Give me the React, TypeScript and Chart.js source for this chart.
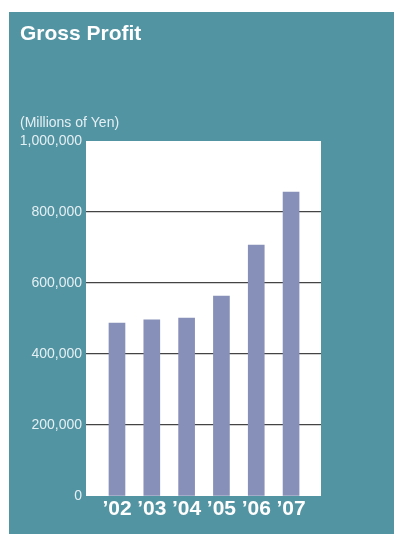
import React, { useEffect, useRef } from "react";
import { Chart, registerables } from "chart.js";

Chart.register(...registerables);

const title = "Gross Profit";
const unitLabel = "(Millions of Yen)";
const categories = ["\u201902", "\u201903", "\u201904", "\u201905", "\u201906", "\u201907"];
const grossProfit = [487000, 496000, 501000, 563000, 707000, 856000];
const yTicks = [0, 200000, 400000, 600000, 800000, 1000000];

const TEAL = "#5394A3";
const BAR = "#8790B9";

export default function App() {
  const ref = useRef<HTMLCanvasElement | null>(null);

  useEffect(() => {
    if (!ref.current) return;
    const panelPlugin = {
      id: "panel",
      beforeDraw(chart: any) {
        const { ctx, chartArea } = chart;
        ctx.save();
        ctx.fillStyle = TEAL;
        ctx.fillRect(0, 0, chart.width, chart.height);
        ctx.fillStyle = "#ffffff";
        ctx.fillRect(chartArea.left, chartArea.top, chartArea.right - chartArea.left, chartArea.bottom - chartArea.top);
        ctx.restore();
      },
      afterDraw(chart: any) {
        const { ctx } = chart;
        ctx.save();
        ctx.fillStyle = "#ffffff";
        ctx.textAlign = "left";
        ctx.textBaseline = "alphabetic";
        ctx.font = "bold 21px 'Liberation Sans', Arial, sans-serif";
        ctx.fillText(title, 11, 28);
        ctx.fillStyle = "#e4f0f3";
        ctx.font = "14px 'Liberation Sans', Arial, sans-serif";
        ctx.fillText(unitLabel, 11, 115);
        ctx.restore();
      },
    };

    const chart = new Chart(ref.current, {
      type: "bar",
      data: {
        datasets: [
          {
            data: grossProfit.map((v, i) => ({ x: i + 1, y: v })),
            backgroundColor: BAR,
            borderWidth: 0,
            barThickness: 16,
          },
        ],
      },
      options: {
        responsive: false,
        animation: false,
        layout: { padding: { top: 129, right: 73, left: 0, bottom: 0 } },
        plugins: { legend: { display: false }, tooltip: { enabled: false } },
        scales: {
          x: {
            type: "linear",
            min: 0.11,
            max: 6.86,
            offset: false,
            grid: { display: false, drawTicks: false, offset: false },
            border: { display: false },
            afterBuildTicks: (scale: any) => {
              scale.ticks = categories.map((_, i) => ({ value: i + 1 }));
            },
            afterFit: (scale: any) => {
              scale.height = 38;
            },
            ticks: {
              autoSkip: false,
              maxRotation: 0,
              padding: 1,
              color: "#ffffff",
              font: { family: "'Liberation Sans', Arial, sans-serif", size: 21, weight: "bold" },
              callback: (v: any) => categories[Math.round(Number(v)) - 1] ?? "",
            },
          },
          y: {
            min: 0,
            max: 1000000,
            afterBuildTicks: (scale: any) => {
              scale.ticks = yTicks.map((v) => ({ value: v }));
            },
            afterFit: (scale: any) => {
              scale.width = 77;
            },
            border: { display: false },
            grid: {
              drawTicks: false,
              lineWidth: 1.3,
              color: (c: any) =>
                c.tick && (c.tick.value === 0 || c.tick.value === 1000000) ? "rgba(0,0,0,0)" : "#444444",
            },
            ticks: {
              padding: 4,
              color: "#e4f0f3",
              font: { family: "'Liberation Sans', Arial, sans-serif", size: 14 },
              callback: (v: any) => Number(v).toLocaleString("en-US"),
            },
          },
        },
      },
      plugins: [panelPlugin],
    } as any);
    return () => chart.destroy();
  }, []);

  return (
    <div style={{ position: "absolute", left: 9, top: 12, width: 385, height: 522, background: TEAL }}>
      <canvas ref={ref} width={385} height={522} style={{ display: "block" }} />
    </div>
  );
}
